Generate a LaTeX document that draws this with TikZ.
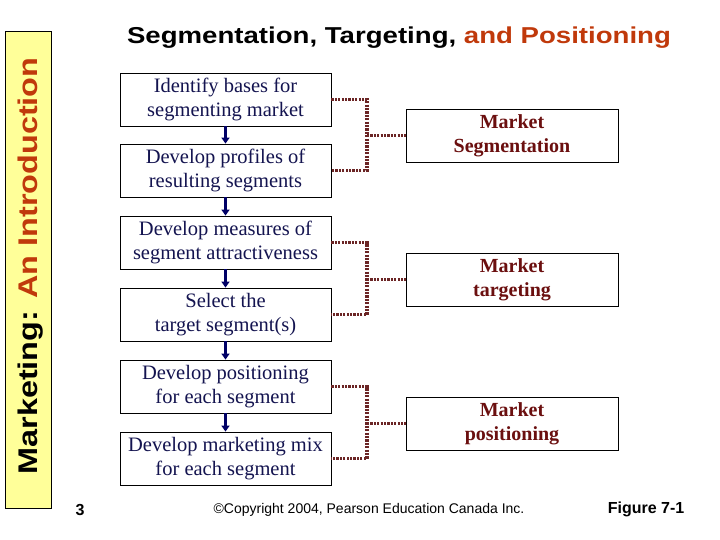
\documentclass[tikz,border=0pt]{standalone}
\usepackage{fontspec}
\setmainfont{Liberation Serif}
\setsansfont{Liberation Sans}
\newfontfamily\widesans[FakeStretch=1.2]{Liberation Sans}
\usetikzlibrary{arrows.meta}

\definecolor{bandfill}{HTML}{FFFF99}
\definecolor{rust}{HTML}{C0390B}
\definecolor{navy}{HTML}{000066}
\definecolor{boxink}{HTML}{141450}
\definecolor{stageink}{HTML}{6B0F0F}
\definecolor{dotline}{HTML}{6B2525}

\tikzset{
  stepbox/.style={draw=black, line width=0.8pt, fill=white, minimum width=211pt,
    minimum height=53pt, inner sep=0pt, align=center, text=boxink,
    font=\fontsize{20.5}{24}\selectfont},
  stagebox/.style={draw=black, line width=0.8pt, fill=white, minimum width=212pt,
    minimum height=53pt, inner sep=0pt, align=center, text=stageink,
    font=\bfseries\fontsize{20}{24}\selectfont},
  flow/.style={draw=navy, line width=2.6pt, -{Triangle[length=6pt,width=8pt]}},
  link/.style={draw=dotline, line width=3.2pt, dash pattern=on 2.2pt off 1.2pt},
}

\begin{document}
\begin{tikzpicture}[x=1pt, y=-1pt]
  \useasboundingbox (0,0) rectangle (720,540);

  % Side band
  \node (band) [draw, line width=0.8pt, fill=bandfill, minimum width=46pt,
    minimum height=477pt, inner sep=0pt] at (28, 269.5) {};
  \node (series) [rotate=90, font=\widesans\bfseries\fontsize{27}{27}\selectfont]
    at (31, 266) {Marketing: \textcolor{rust}{An Introduction}};

  % Title
  \node (title) [font=\widesans\bfseries\fontsize{23}{23}\selectfont]
    at (399, 38) {Segmentation, Targeting, \textcolor{rust}{and Positioning}};

  % Steps (left column)
  \node (s1) [stepbox] at (225.5, 99.5)  {Identify bases for\\segmenting market};
  \node (s2) [stepbox] at (225.5, 170.5) {Develop profiles of\\resulting segments};
  \node (s3) [stepbox] at (225.5, 242.5) {Develop measures of\\segment attractiveness};
  \node (s4) [stepbox] at (225.5, 314.5) {Select the\\target segment(s)};
  \node (s5) [stepbox] at (225.5, 386.5) {Develop positioning\\for each segment};
  \node (s6) [stepbox] at (225.5, 458.5) {Develop marketing mix\\for each segment};

  % Stages (right column)
  \node (m1) [stagebox] at (512, 135.5) {Market\\Segmentation};
  \node (m2) [stagebox] at (512, 279.5) {Market\\targeting};
  \node (m3) [stagebox] at (512, 423.5) {Market\\positioning};

  % Bracket joints
  \coordinate (j1) at (367, 135.5);
  \coordinate (j2) at (367, 279.5);
  \coordinate (j3) at (367, 423.5);

  % Connections
  \draw [flow] (s1) -- (s2);
  \draw [flow] (s2) -- (s3);
  \draw [flow] (s3) -- (s4);
  \draw [flow] (s4) -- (s5);
  \draw [flow] (s5) -- (s6);

  \draw [link] (s1.east) -| (j1) |- (s2.east);
  \draw [link] (j1) -- (m1.west);
  \draw [link] (s3.east) -| (j2) |- (s4.east);
  \draw [link] (j2) -- (m2.west);
  \draw [link] (s5.east) -| (j3) |- (s6.east);
  \draw [link] (j3) -- (m3.west);

  % Footer
  \node (page) [font=\sffamily\bfseries\fontsize{16}{16}\selectfont] at (80, 510) {3};
  \node (copy) [font=\sffamily\fontsize{14}{14}\selectfont] at (369, 510)
    {©Copyright 2004, Pearson Education Canada Inc.};
  \node (fig) [font=\sffamily\bfseries\fontsize{16}{16}\selectfont] at (646, 509) {Figure 7-1};
\end{tikzpicture}
\end{document}
